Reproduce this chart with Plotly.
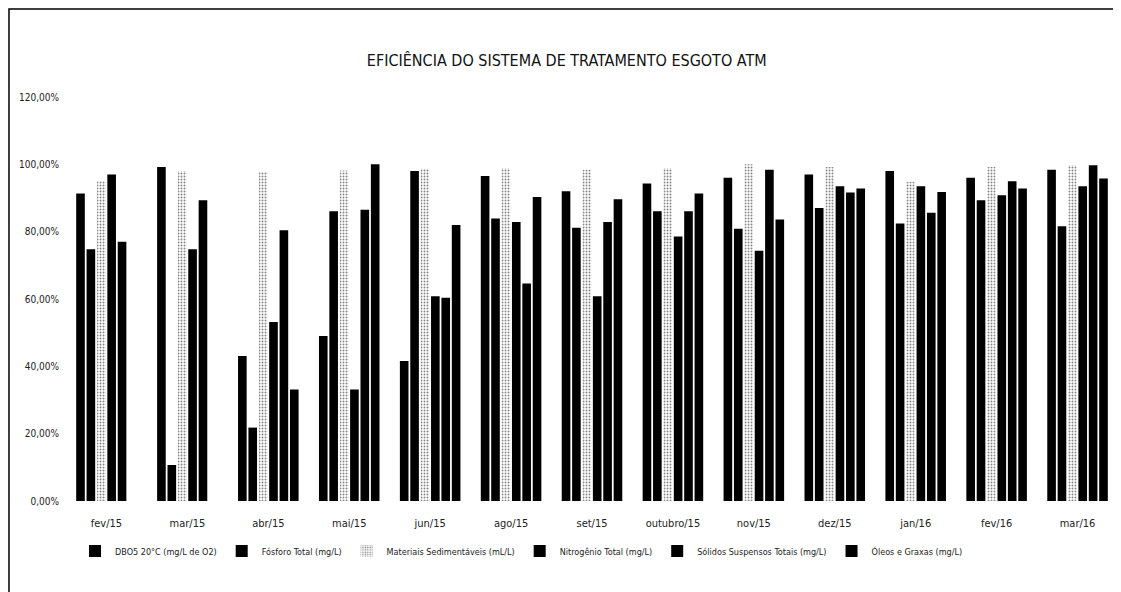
import plotly.graph_objects as go

categories = ["fev/15", "mar/15", "abr/15", "mai/15", "jun/15", "ago/15", "set/15",
              "outubro/15", "nov/15", "dez/15", "jan/16", "fev/16", "mar/16"]

dbo = [91.3, 99.2, 43.1, 49.0, 41.6, 96.5, 92.0, 94.3, 96.0, 97.0, 98.0, 96.0, 98.4]
fosforo = [74.8, 10.7, 21.8, 86.1, 98.0, 83.9, 81.2, 86.1, 80.9, 87.0, 82.4, 89.3, 81.6]
materiais = [95.0, 98.0, 97.7, 98.2, 98.7, 98.8, 98.4, 98.8, 100.0, 99.2, 94.8, 99.2, 99.7]
nitrogenio = [97.0, 74.8, 53.2, 33.1, 60.8, 82.9, 60.8, 78.6, 74.3, 93.5, 93.5, 90.8, 93.5]
solidos = [77.0, 89.3, 80.4, 86.5, 60.4, 64.6, 82.9, 86.1, 98.4, 91.6, 85.6, 95.0, 99.7]
oleos = [None, None, 33.1, 100.0, 82.0, 90.3, 89.6, 91.3, 83.6, 92.8, 91.8, 92.8, 95.8]

series_names = ["DBO5 20°C (mg/L de O2)", "Fósforo Total (mg/L)",
                "Materiais Sedimentáveis (mL/L)", "Nitrogênio Total (mg/L)",
                "Sólidos Suspensos Totais (mg/L)", "Óleos e Graxas (mg/L)"]
series_values = [dbo, fosforo, materiais, nitrogenio, solidos, oleos]

FONT = "Liberation Sans Narrow, DejaVu Sans Condensed, Arial Narrow, sans-serif"

fig = go.Figure()
for name, vals in zip(series_names, series_values):
    if name.startswith("Materiais"):
        marker = dict(color="white",
                      pattern=dict(shape=".", fgcolor="#111", bgcolor="white",
                                   size=3, solidity=0.35),
                      line=dict(width=0))
    else:
        marker = dict(color="black", line=dict(width=0))
    fig.add_trace(go.Bar(x=categories, y=vals, name=name, marker=marker))

fig.update_layout(
    width=1113, height=584,
    paper_bgcolor="white", plot_bgcolor="white",
    barmode="group", bargap=0.23, bargroupgap=0.17,
    separators=",.",
    margin=dict(l=58, r=3, t=89, b=91),
    font=dict(family=FONT, color="#222", size=11),
    title=dict(text="EFICIÊNCIA DO SISTEMA DE TRATAMENTO ESGOTO ATM",
               x=0.502, xanchor="center", y=0.911, yanchor="middle",
               font=dict(family=FONT, size=16, color="#111")),
    showlegend=True,
    legend=dict(orientation="h", x=0.433, xanchor="center", y=-0.124, yanchor="middle",
                font=dict(family=FONT, size=9, color="#222"),
                itemwidth=30, traceorder="normal"),
    xaxis=dict(showgrid=False, showline=False, ticks="", ticklabelstandoff=14,
               tickfont=dict(size=11)),
    yaxis=dict(range=[0, 120], dtick=20, tickformat=",.2f", ticksuffix="%",
               showgrid=False, showline=False, zeroline=False, ticks="",
               tickfont=dict(size=10), ticklabelstandoff=6),
    shapes=[dict(type="rect", xref="paper", yref="paper",
                 x0=-0.0542, x1=1.1, y0=-0.6, y1=1.218,
                 line=dict(color="black", width=1.5), layer="below")],
)

fig.write_html("out.html")
